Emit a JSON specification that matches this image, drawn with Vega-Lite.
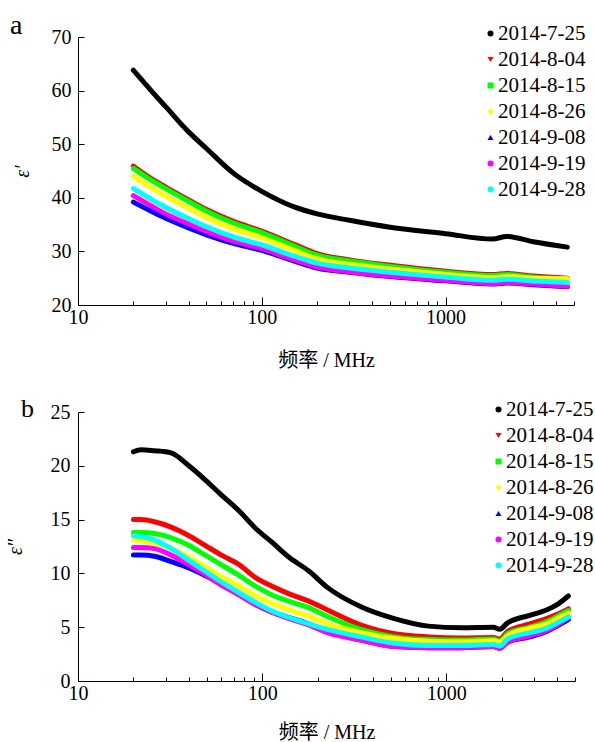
{
  "$schema": "https://vega.github.io/schema/vega-lite/v6.json",
  "padding": {"left": 5, "top": 12, "right": 0, "bottom": 0},
  "background": "white",
  "config": {
    "view": {"stroke": null},
    "font": "Liberation Serif",
    "axis": {
      "grid": false, "domainColor": "#000", "domainWidth": 1, "tickColor": "#000", "tickWidth": 1,
      "labelColor": "#000", "labelFont": "Liberation Serif", "labelFontSize": 20,
      "titleColor": "#000", "titleFont": "Liberation Serif, Noto Sans CJK SC", "titleFontSize": 20, "titleFontWeight": "normal"
    },
    "legend": {
      "orient": "none", "title": null, "labelFont": "Liberation Serif", "labelFontSize": 21, "labelColor": "#000",
      "symbolSize": 36, "symbolStrokeWidth": 0, "rowPadding": 4, "labelOffset": -3, "padding": 0
    },
    "title": {"font": "Liberation Serif", "fontWeight": "normal", "color": "#000"}
  },
  "datasets": {
    "a": [
      {"s":"2014-7-25","f":20,"v":63.8},{"s":"2014-7-25","f":25,"v":60.0},{"s":"2014-7-25","f":30,"v":57.0},{"s":"2014-7-25","f":40,"v":52.3},{"s":"2014-7-25","f":50,"v":49.2},{"s":"2014-7-25","f":70,"v":44.6},{"s":"2014-7-25","f":100,"v":41.2},{"s":"2014-7-25","f":150,"v":38.3},{"s":"2014-7-25","f":200,"v":37.0},{"s":"2014-7-25","f":300,"v":35.8},{"s":"2014-7-25","f":500,"v":34.5},{"s":"2014-7-25","f":1000,"v":33.3},{"s":"2014-7-25","f":1800,"v":32.3},{"s":"2014-7-25","f":2150,"v":32.8},{"s":"2014-7-25","f":3000,"v":31.8},{"s":"2014-7-25","f":4600,"v":30.8},
      {"s":"2014-8-04","f":20,"v":45.9},{"s":"2014-8-04","f":25,"v":43.6},{"s":"2014-8-04","f":30,"v":42.0},{"s":"2014-8-04","f":40,"v":39.6},{"s":"2014-8-04","f":50,"v":37.8},{"s":"2014-8-04","f":70,"v":35.6},{"s":"2014-8-04","f":100,"v":33.8},{"s":"2014-8-04","f":150,"v":31.3},{"s":"2014-8-04","f":200,"v":29.6},{"s":"2014-8-04","f":300,"v":28.4},{"s":"2014-8-04","f":500,"v":27.4},{"s":"2014-8-04","f":1000,"v":26.3},{"s":"2014-8-04","f":1800,"v":25.7},{"s":"2014-8-04","f":2150,"v":25.9},{"s":"2014-8-04","f":3000,"v":25.4},{"s":"2014-8-04","f":4600,"v":25.0},
      {"s":"2014-8-15","f":20,"v":45.5},{"s":"2014-8-15","f":25,"v":43.3},{"s":"2014-8-15","f":30,"v":41.7},{"s":"2014-8-15","f":40,"v":39.3},{"s":"2014-8-15","f":50,"v":37.5},{"s":"2014-8-15","f":70,"v":35.3},{"s":"2014-8-15","f":100,"v":33.5},{"s":"2014-8-15","f":150,"v":31.0},{"s":"2014-8-15","f":200,"v":29.3},{"s":"2014-8-15","f":300,"v":28.2},{"s":"2014-8-15","f":500,"v":27.2},{"s":"2014-8-15","f":1000,"v":26.1},{"s":"2014-8-15","f":1800,"v":25.5},{"s":"2014-8-15","f":2150,"v":25.7},{"s":"2014-8-15","f":3000,"v":25.2},{"s":"2014-8-15","f":4600,"v":24.9},
      {"s":"2014-8-26","f":20,"v":44.0},{"s":"2014-8-26","f":25,"v":41.9},{"s":"2014-8-26","f":30,"v":40.3},{"s":"2014-8-26","f":40,"v":38.0},{"s":"2014-8-26","f":50,"v":36.3},{"s":"2014-8-26","f":70,"v":34.2},{"s":"2014-8-26","f":100,"v":32.5},{"s":"2014-8-26","f":150,"v":30.2},{"s":"2014-8-26","f":200,"v":28.6},{"s":"2014-8-26","f":300,"v":27.6},{"s":"2014-8-26","f":500,"v":26.7},{"s":"2014-8-26","f":1000,"v":25.7},{"s":"2014-8-26","f":1800,"v":25.1},{"s":"2014-8-26","f":2150,"v":25.3},{"s":"2014-8-26","f":3000,"v":25.0},{"s":"2014-8-26","f":4600,"v":24.9},
      {"s":"2014-9-08","f":20,"v":39.2},{"s":"2014-9-08","f":25,"v":37.5},{"s":"2014-9-08","f":30,"v":36.2},{"s":"2014-9-08","f":40,"v":34.4},{"s":"2014-9-08","f":50,"v":33.1},{"s":"2014-9-08","f":70,"v":31.5},{"s":"2014-9-08","f":100,"v":30.2},{"s":"2014-9-08","f":150,"v":28.2},{"s":"2014-9-08","f":200,"v":26.9},{"s":"2014-9-08","f":300,"v":26.1},{"s":"2014-9-08","f":500,"v":25.3},{"s":"2014-9-08","f":1000,"v":24.5},{"s":"2014-9-08","f":1800,"v":23.9},{"s":"2014-9-08","f":2150,"v":24.1},{"s":"2014-9-08","f":3000,"v":23.8},{"s":"2014-9-08","f":4600,"v":23.4},
      {"s":"2014-9-19","f":20,"v":40.4},{"s":"2014-9-19","f":25,"v":38.5},{"s":"2014-9-19","f":30,"v":37.0},{"s":"2014-9-19","f":40,"v":35.1},{"s":"2014-9-19","f":50,"v":33.7},{"s":"2014-9-19","f":70,"v":31.9},{"s":"2014-9-19","f":100,"v":30.5},{"s":"2014-9-19","f":150,"v":28.4},{"s":"2014-9-19","f":200,"v":27.1},{"s":"2014-9-19","f":300,"v":26.2},{"s":"2014-9-19","f":500,"v":25.4},{"s":"2014-9-19","f":1000,"v":24.6},{"s":"2014-9-19","f":1800,"v":24.0},{"s":"2014-9-19","f":2150,"v":24.2},{"s":"2014-9-19","f":3000,"v":23.9},{"s":"2014-9-19","f":4600,"v":23.5},
      {"s":"2014-9-28","f":20,"v":41.7},{"s":"2014-9-28","f":25,"v":39.7},{"s":"2014-9-28","f":30,"v":38.2},{"s":"2014-9-28","f":40,"v":36.1},{"s":"2014-9-28","f":50,"v":34.6},{"s":"2014-9-28","f":70,"v":32.7},{"s":"2014-9-28","f":100,"v":31.2},{"s":"2014-9-28","f":150,"v":29.1},{"s":"2014-9-28","f":200,"v":27.8},{"s":"2014-9-28","f":300,"v":26.9},{"s":"2014-9-28","f":500,"v":26.1},{"s":"2014-9-28","f":1000,"v":25.2},{"s":"2014-9-28","f":1800,"v":24.6},{"s":"2014-9-28","f":2150,"v":24.8},{"s":"2014-9-28","f":3000,"v":24.5},{"s":"2014-9-28","f":4600,"v":24.2}
    ],
    "b": [
      {"s":"2014-7-25","f":20,"v":21.3},{"s":"2014-7-25","f":22,"v":21.5},{"s":"2014-7-25","f":26,"v":21.4},{"s":"2014-7-25","f":32,"v":21.2},{"s":"2014-7-25","f":40,"v":20.0},{"s":"2014-7-25","f":49,"v":18.7},{"s":"2014-7-25","f":60,"v":17.3},{"s":"2014-7-25","f":75,"v":15.8},{"s":"2014-7-25","f":92,"v":14.2},{"s":"2014-7-25","f":113,"v":12.9},{"s":"2014-7-25","f":140,"v":11.5},{"s":"2014-7-25","f":180,"v":10.2},{"s":"2014-7-25","f":226,"v":8.7},{"s":"2014-7-25","f":344,"v":6.9},{"s":"2014-7-25","f":522,"v":5.8},{"s":"2014-7-25","f":800,"v":5.1},{"s":"2014-7-25","f":1205,"v":4.95},{"s":"2014-7-25","f":1800,"v":5.0},{"s":"2014-7-25","f":1950,"v":4.8},{"s":"2014-7-25","f":2150,"v":5.4},{"s":"2014-7-25","f":2840,"v":6.1},{"s":"2014-7-25","f":3500,"v":6.6},{"s":"2014-7-25","f":4000,"v":7.1},{"s":"2014-7-25","f":4600,"v":7.9},
      {"s":"2014-8-04","f":20,"v":15.0},{"s":"2014-8-04","f":22,"v":15.0},{"s":"2014-8-04","f":26,"v":14.8},{"s":"2014-8-04","f":32,"v":14.3},{"s":"2014-8-04","f":40,"v":13.5},{"s":"2014-8-04","f":49,"v":12.6},{"s":"2014-8-04","f":60,"v":11.7},{"s":"2014-8-04","f":75,"v":10.8},{"s":"2014-8-04","f":92,"v":9.6},{"s":"2014-8-04","f":113,"v":8.8},{"s":"2014-8-04","f":140,"v":8.1},{"s":"2014-8-04","f":180,"v":7.4},{"s":"2014-8-04","f":226,"v":6.6},{"s":"2014-8-04","f":344,"v":5.2},{"s":"2014-8-04","f":522,"v":4.4},{"s":"2014-8-04","f":800,"v":4.1},{"s":"2014-8-04","f":1205,"v":4.0},{"s":"2014-8-04","f":1800,"v":4.05},{"s":"2014-8-04","f":1950,"v":3.9},{"s":"2014-8-04","f":2150,"v":4.6},{"s":"2014-8-04","f":2840,"v":5.3},{"s":"2014-8-04","f":3500,"v":5.8},{"s":"2014-8-04","f":4000,"v":6.2},{"s":"2014-8-04","f":4600,"v":6.7},
      {"s":"2014-8-15","f":20,"v":13.8},{"s":"2014-8-15","f":22,"v":13.8},{"s":"2014-8-15","f":26,"v":13.7},{"s":"2014-8-15","f":32,"v":13.3},{"s":"2014-8-15","f":40,"v":12.6},{"s":"2014-8-15","f":49,"v":11.7},{"s":"2014-8-15","f":60,"v":10.8},{"s":"2014-8-15","f":75,"v":9.8},{"s":"2014-8-15","f":92,"v":8.8},{"s":"2014-8-15","f":113,"v":8.0},{"s":"2014-8-15","f":140,"v":7.4},{"s":"2014-8-15","f":180,"v":6.8},{"s":"2014-8-15","f":226,"v":6.0},{"s":"2014-8-15","f":344,"v":4.8},{"s":"2014-8-15","f":522,"v":4.1},{"s":"2014-8-15","f":800,"v":3.85},{"s":"2014-8-15","f":1205,"v":3.8},{"s":"2014-8-15","f":1800,"v":3.9},{"s":"2014-8-15","f":1950,"v":3.75},{"s":"2014-8-15","f":2150,"v":4.4},{"s":"2014-8-15","f":2840,"v":5.0},{"s":"2014-8-15","f":3500,"v":5.5},{"s":"2014-8-15","f":4000,"v":6.0},{"s":"2014-8-15","f":4600,"v":6.55},
      {"s":"2014-8-26","f":20,"v":13.1},{"s":"2014-8-26","f":22,"v":13.0},{"s":"2014-8-26","f":26,"v":12.8},{"s":"2014-8-26","f":32,"v":12.3},{"s":"2014-8-26","f":40,"v":11.5},{"s":"2014-8-26","f":49,"v":10.6},{"s":"2014-8-26","f":60,"v":9.7},{"s":"2014-8-26","f":75,"v":8.8},{"s":"2014-8-26","f":92,"v":7.9},{"s":"2014-8-26","f":113,"v":7.2},{"s":"2014-8-26","f":140,"v":6.6},{"s":"2014-8-26","f":180,"v":6.0},{"s":"2014-8-26","f":226,"v":5.3},{"s":"2014-8-26","f":344,"v":4.5},{"s":"2014-8-26","f":522,"v":3.95},{"s":"2014-8-26","f":800,"v":3.7},{"s":"2014-8-26","f":1205,"v":3.65},{"s":"2014-8-26","f":1800,"v":3.75},{"s":"2014-8-26","f":1950,"v":3.6},{"s":"2014-8-26","f":2150,"v":4.2},{"s":"2014-8-26","f":2840,"v":4.9},{"s":"2014-8-26","f":3500,"v":5.3},{"s":"2014-8-26","f":4000,"v":5.8},{"s":"2014-8-26","f":4600,"v":6.3},
      {"s":"2014-9-08","f":20,"v":11.7},{"s":"2014-9-08","f":22,"v":11.7},{"s":"2014-9-08","f":26,"v":11.6},{"s":"2014-9-08","f":32,"v":11.1},{"s":"2014-9-08","f":40,"v":10.5},{"s":"2014-9-08","f":49,"v":9.8},{"s":"2014-9-08","f":60,"v":9.0},{"s":"2014-9-08","f":75,"v":8.0},{"s":"2014-9-08","f":92,"v":7.1},{"s":"2014-9-08","f":113,"v":6.4},{"s":"2014-9-08","f":140,"v":5.9},{"s":"2014-9-08","f":180,"v":5.3},{"s":"2014-9-08","f":226,"v":4.6},{"s":"2014-9-08","f":344,"v":3.8},{"s":"2014-9-08","f":522,"v":3.2},{"s":"2014-9-08","f":800,"v":3.1},{"s":"2014-9-08","f":1205,"v":3.1},{"s":"2014-9-08","f":1800,"v":3.2},{"s":"2014-9-08","f":1950,"v":3.05},{"s":"2014-9-08","f":2150,"v":3.6},{"s":"2014-9-08","f":2840,"v":4.1},{"s":"2014-9-08","f":3500,"v":4.6},{"s":"2014-9-08","f":4000,"v":5.1},{"s":"2014-9-08","f":4600,"v":5.7},
      {"s":"2014-9-19","f":20,"v":12.4},{"s":"2014-9-19","f":22,"v":12.4},{"s":"2014-9-19","f":26,"v":12.3},{"s":"2014-9-19","f":32,"v":11.7},{"s":"2014-9-19","f":40,"v":10.8},{"s":"2014-9-19","f":49,"v":9.9},{"s":"2014-9-19","f":60,"v":8.9},{"s":"2014-9-19","f":75,"v":8.0},{"s":"2014-9-19","f":92,"v":7.1},{"s":"2014-9-19","f":113,"v":6.4},{"s":"2014-9-19","f":140,"v":5.8},{"s":"2014-9-19","f":180,"v":5.2},{"s":"2014-9-19","f":226,"v":4.5},{"s":"2014-9-19","f":344,"v":3.8},{"s":"2014-9-19","f":522,"v":3.2},{"s":"2014-9-19","f":800,"v":3.1},{"s":"2014-9-19","f":1205,"v":3.1},{"s":"2014-9-19","f":1800,"v":3.2},{"s":"2014-9-19","f":1950,"v":3.05},{"s":"2014-9-19","f":2150,"v":3.6},{"s":"2014-9-19","f":2840,"v":4.2},{"s":"2014-9-19","f":3500,"v":4.7},{"s":"2014-9-19","f":4000,"v":5.2},{"s":"2014-9-19","f":4600,"v":5.9},
      {"s":"2014-9-28","f":20,"v":13.5},{"s":"2014-9-28","f":22,"v":13.4},{"s":"2014-9-28","f":26,"v":13.1},{"s":"2014-9-28","f":32,"v":12.3},{"s":"2014-9-28","f":40,"v":11.2},{"s":"2014-9-28","f":49,"v":10.2},{"s":"2014-9-28","f":60,"v":9.2},{"s":"2014-9-28","f":75,"v":8.2},{"s":"2014-9-28","f":92,"v":7.3},{"s":"2014-9-28","f":113,"v":6.5},{"s":"2014-9-28","f":140,"v":5.9},{"s":"2014-9-28","f":180,"v":5.3},{"s":"2014-9-28","f":226,"v":4.8},{"s":"2014-9-28","f":344,"v":4.1},{"s":"2014-9-28","f":522,"v":3.5},{"s":"2014-9-28","f":800,"v":3.3},{"s":"2014-9-28","f":1205,"v":3.3},{"s":"2014-9-28","f":1800,"v":3.4},{"s":"2014-9-28","f":1950,"v":3.25},{"s":"2014-9-28","f":2150,"v":3.9},{"s":"2014-9-28","f":2840,"v":4.5},{"s":"2014-9-28","f":3500,"v":4.9},{"s":"2014-9-28","f":4000,"v":5.4},{"s":"2014-9-28","f":4600,"v":5.95}
    ]
  },
  "concat": [
    {
      "data": {"name": "a"},
      "width": 496, "height": 268,
      "title": {"text": "a", "anchor": "start", "frame": "group", "dx": -68, "offset": -39, "baseline": "alphabetic", "fontSize": 28},
      "encoding": {
        "x": {"field": "f", "type": "quantitative", "scale": {"type": "log", "domain": [10, 5000], "nice": false},
          "axis": {"values": [10,20,30,40,50,60,70,80,90,100,200,300,400,500,600,700,800,900,1000,2000,3000,4000,5000],
            "labelExpr": "datum.value == 10 || datum.value == 100 || datum.value == 1000 ? format(datum.value, 'd') : ''",
            "labelOverlap": false, "labelFlush": false, "labelBound": false, "labelFont": "Liberation Serif",
            "tickSize": {"condition": {"test": "datum.value == 10 || datum.value == 100 || datum.value == 1000", "value": -8}, "value": -4},
            "labelPadding": 10, "title": "频率 / MHz", "titlePadding": 19}},
        "y": {"field": "v", "type": "quantitative", "scale": {"domain": [20, 70], "nice": false, "zero": false},
          "axis": {"values": [20,30,40,50,60,70], "tickSize": -6, "labelPadding": 13, "labelFont": "Liberation Serif", "title": "ε′", "titleFont": "Liberation Serif", "titleFontStyle": "italic", "titlePadding": 19}},
        "color": {"field": "s", "type": "nominal",
          "scale": {"domain": ["2014-7-25","2014-8-04","2014-8-15","2014-8-26","2014-9-08","2014-9-19","2014-9-28"],
                    "range": ["#000000","#ff0000","#00ff00","#ffff00","#0000ff","#ff00ff","#00ffff"]},
          "legend": {"orient": "none", "legendX": 402, "legendY": -14}}
      },
      "layer": [
        {"mark": {"type": "line", "strokeWidth": 5, "interpolate": "monotone", "strokeCap": "round"}},
        {"mark": {"type": "point", "filled": true, "size": 0, "opacity": 1},
         "encoding": {
           "shape": {"field": "s", "type": "nominal", "scale": {"domain": ["2014-7-25","2014-8-04","2014-8-15","2014-8-26","2014-9-08","2014-9-19","2014-9-28"], "range": ["circle","triangle-down","square","diamond","triangle-up","circle","circle"]},
             "legend": {"orient": "none", "legendX": 402, "legendY": -14}}
         }}
      ]
    },
    {
      "data": {"name": "b"},
      "width": 497, "height": 269,
      "title": {"text": "b", "anchor": "start", "frame": "group", "dx": -57, "offset": -44, "baseline": "alphabetic", "fontSize": 26},
      "encoding": {
        "x": {"field": "f", "type": "quantitative", "scale": {"type": "log", "domain": [10, 5000], "nice": false},
          "axis": {"values": [10,20,30,40,50,60,70,80,90,100,200,300,400,500,600,700,800,900,1000,2000,3000,4000,5000],
            "labelExpr": "datum.value == 10 || datum.value == 100 || datum.value == 1000 ? format(datum.value, 'd') : ''",
            "labelOverlap": false, "labelFlush": false, "labelBound": false, "labelFont": "Liberation Serif",
            "tickSize": {"condition": {"test": "datum.value == 10 || datum.value == 100 || datum.value == 1000", "value": -8}, "value": -4},
            "labelPadding": 10, "title": "频率 / MHz", "titlePadding": 15}},
        "y": {"field": "v", "type": "quantitative", "scale": {"domain": [0, 25], "nice": false, "zero": false},
          "axis": {"values": [0,5,10,15,20,25], "tickSize": -6, "labelPadding": 14, "labelFont": "Liberation Serif", "title": "ε″", "titleFont": "Liberation Serif", "titleFontStyle": "italic", "titlePadding": 25}},
        "color": {"field": "s", "type": "nominal",
          "scale": {"domain": ["2014-7-25","2014-8-04","2014-8-15","2014-8-26","2014-9-08","2014-9-19","2014-9-28"],
                    "range": ["#000000","#ff0000","#00ff00","#ffff00","#0000ff","#ff00ff","#00ffff"]},
          "legend": {"orient": "none", "legendX": 410, "legendY": -13}}
      },
      "layer": [
        {"mark": {"type": "line", "strokeWidth": 5, "interpolate": "monotone", "strokeCap": "round"}},
        {"mark": {"type": "point", "filled": true, "size": 0, "opacity": 1},
         "encoding": {
           "shape": {"field": "s", "type": "nominal", "scale": {"domain": ["2014-7-25","2014-8-04","2014-8-15","2014-8-26","2014-9-08","2014-9-19","2014-9-28"], "range": ["circle","triangle-down","square","diamond","triangle-up","circle","circle"]},
             "legend": {"orient": "none", "legendX": 410, "legendY": -13}}
         }}
      ]
    }
  ],
  "columns": 1,
  "align": "none",
  "spacing": 26,
  "resolve": {"scale": {"color": "independent", "shape": "independent"}, "legend": {"color": "independent", "shape": "independent"}}
}
